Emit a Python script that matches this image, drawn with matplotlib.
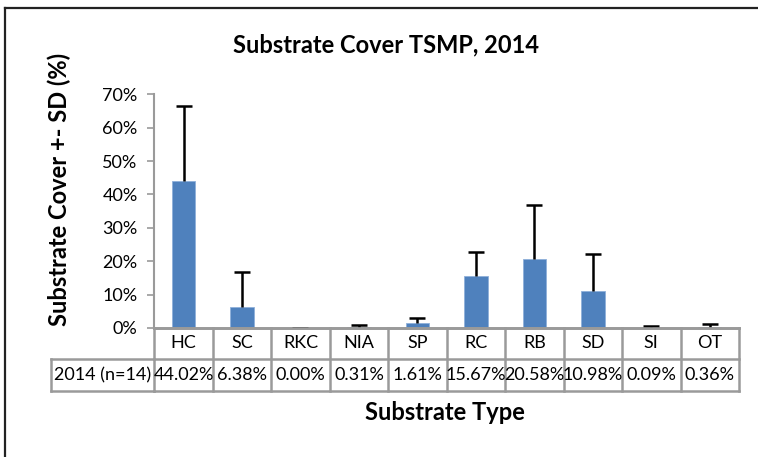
import matplotlib.pyplot as plt
import matplotlib.transforms as mtransforms
from matplotlib.lines import Line2D
from matplotlib.ticker import PercentFormatter

CATEGORIES = ["HC", "SC", "RKC", "NIA", "SP", "RC", "RB", "SD", "SI", "OT"]
COVER = [44.02, 6.38, 0.00, 0.31, 1.61, 15.67, 20.58, 10.98, 0.09, 0.36]
SD = [22.5, 10.4, 0.0, 0.5, 1.3, 7.0, 16.3, 11.3, 0.4, 0.85]
ROW_LABEL = "2014 (n=14)"

BAR_COLOR = "#4F81BD"
GRID_GRAY = "#9a9a9a"

plt.rcParams["font.family"] = ["Lato", "DejaVu Sans"]

W, H = 758, 457
fig = plt.figure(figsize=(W / 100, H / 100), dpi=100)


def fx(px):
    return px / W


def fy(py):
    return 1 - py / H


ax = fig.add_axes([fx(154.3), fy(328), fx(739) - fx(154.3), fy(94.3) - fy(328)])

x = list(range(len(CATEGORIES)))
ax.bar(x, COVER, width=0.4, color=BAR_COLOR, edgecolor="#8fb0da", linewidth=0.6, zorder=2)
# plus-only error bars: hide the cap at the bottom end
eb = ax.errorbar(x, COVER, yerr=[[0] * len(SD), SD], fmt="none", ecolor="black",
                 elinewidth=1.8, capsize=5.5, capthick=1.8, zorder=3)
eb[1][0].set_visible(False)

ax.set_xlim(-0.5, len(CATEGORIES) - 0.5)
ax.set_ylim(0, 70)
ax.set_yticks(range(0, 71, 10))
ax.yaxis.set_major_formatter(PercentFormatter(decimals=0))
ax.tick_params(axis="y", direction="out", length=5, width=1.2, color=GRID_GRAY,
               labelsize=13, pad=7)
ax.tick_params(axis="x", bottom=False, labelbottom=False)
for side in ("top", "right"):
    ax.spines[side].set_visible(False)
ax.spines["left"].set_color(GRID_GRAY)
ax.spines["left"].set_linewidth(1.5)
ax.spines["bottom"].set_color(GRID_GRAY)
ax.spines["bottom"].set_linewidth(2)

# data table under the axis: category row, then values row with a label cell
trans = mtransforms.blended_transform_factory(ax.transData, fig.transFigure)
ftrans = fig.transFigure
y_top, y_mid, y_bot = fy(328), fy(359), fy(391)
x_lab, x_ax = fx(51), fx(154.3)
n = len(CATEGORIES)
for edge in [i - 0.5 for i in range(n + 1)]:
    fig.add_artist(Line2D([edge, edge], [y_bot, y_top], transform=trans,
                          color=GRID_GRAY, lw=1.8))
for yy in (y_top, y_mid, y_bot):
    fig.add_artist(Line2D([-0.5, n - 0.5], [yy, yy], transform=trans,
                          color=GRID_GRAY, lw=1.8))
for yy in (y_mid, y_bot):
    fig.add_artist(Line2D([x_lab, x_ax], [yy, yy], transform=ftrans,
                          color=GRID_GRAY, lw=1.8))
fig.add_artist(Line2D([x_lab, x_lab], [y_bot, y_mid], transform=ftrans,
                      color=GRID_GRAY, lw=1.8))

for i, (cat, val) in enumerate(zip(CATEGORIES, COVER)):
    fig.text(i, (y_top + y_mid) / 2, cat, transform=trans, ha="center",
             va="center", fontsize=13)
    fig.text(i, (y_mid + y_bot) / 2, f"{val:.2f}%", transform=trans,
             ha="center", va="center", fontsize=13)
fig.text((x_lab + x_ax) / 2, (y_mid + y_bot) / 2, ROW_LABEL,
         ha="center", va="center", fontsize=13)

fig.text(fx(386), fy(45), "Substrate Cover TSMP, 2014", ha="center",
         va="center", fontsize=17, fontweight="bold")
fig.text(fx(59), fy(189), "Substrate Cover +- SD (%)", ha="center",
         va="center", rotation=90, fontsize=17, fontweight="bold")
fig.text(fx(445), fy(412), "Substrate Type", ha="center", va="center",
         fontsize=17, fontweight="bold")

# outer chart frame (top and left edges)
fig.add_artist(Line2D([fx(5), 1], [fy(8), fy(8)], transform=ftrans,
                      color="#222222", lw=1.6))
fig.add_artist(Line2D([fx(5), fx(5)], [fy(8), 0], transform=ftrans,
                      color="#222222", lw=1.6))

fig.savefig("out.png", dpi=100)
